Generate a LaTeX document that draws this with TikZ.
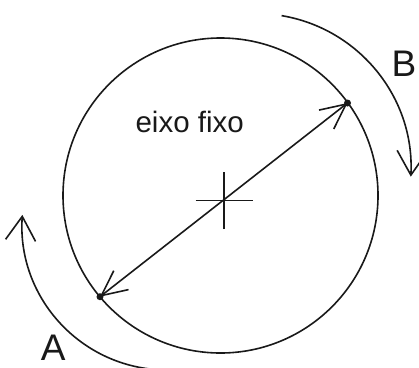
\documentclass[tikz,border=0pt]{standalone}
\usepackage{fontspec}
\setmainfont{Liberation Sans}
\usetikzlibrary{arrows.meta,calc}
\begin{document}
\begin{tikzpicture}[x=1pt,y=1pt,
  line/.style={line width=1.6pt, draw=black!90},
  rotarrow/.style={line, -{Straight Barb[length=24pt,width=30pt,line width=1.6pt]}},
  diamarrow/.style={line, {Straight Barb[length=25pt,width=24pt,line width=1.6pt]}-{Straight Barb[length=25pt,width=24pt,line width=1.6pt]}},
  lbl/.style={font=\fontsize{37}{40}\selectfont, inner sep=0pt, anchor=base, text=black!90},
  txt/.style={font=\fontsize{29.5}{32}\selectfont, inner sep=0pt, anchor=base, text=black!90}]
\useasboundingbox (0,-367) rectangle (419,0);
% circle
\coordinate (c) at (220.5,-195.5);
\draw[line] (c) circle[radius=157.5pt];
% cross
\coordinate (x0) at (224,-200.5);
\draw[line] ($(x0)+(-28.5,0)$) -- ($(x0)+(28.5,0)$);
\draw[line] ($(x0)+(0,-28.5)$) -- ($(x0)+(0,28.5)$);
% diameter points
\coordinate (pA) at (100,-296.7);
\coordinate (pB) at (347.5,-103);
\draw[diamarrow] (pA) -- (pB);
\fill[black!90] (pA) circle[radius=3.5pt];
\fill[black!90] (pB) circle[radius=3.5pt];
% rotation arcs
\coordinate (ca) at (167,-225);
\coordinate (a0) at ($(ca)+(263:145pt)$);
\draw[rotarrow] (a0) arc[start angle=263, end angle=176, radius=145pt];
\coordinate (cb) at (256,-168.5);
\coordinate (b0) at ($(cb)+(80.5:155pt)$);
\draw[rotarrow] (b0) arc[start angle=80.5, end angle=-3, radius=155pt];
% labels
\node[lbl] (la) at (53.3,-360) {A};
\node[lbl] (lb) at (404,-76) {B};
\node[txt] (ef) at (189.7,-132.7) {eixo fixo};
\end{tikzpicture}
\end{document}
